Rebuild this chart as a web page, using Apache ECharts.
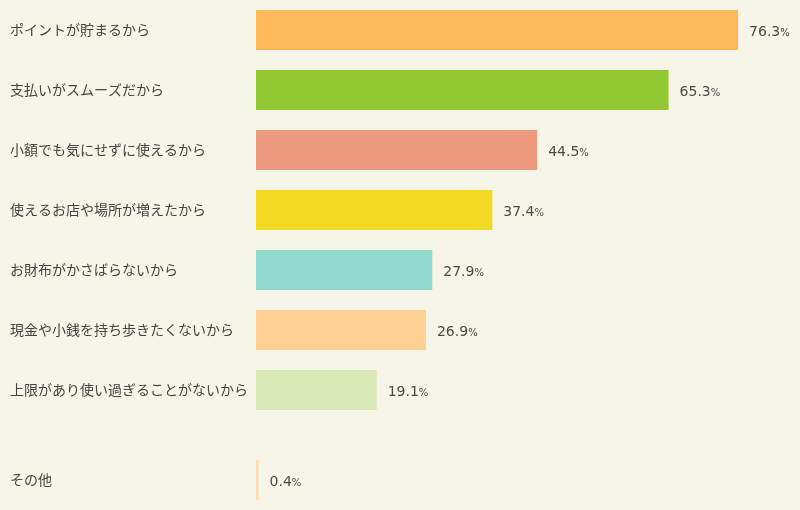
<!DOCTYPE html>
<html><head><meta charset="utf-8">
<script src="https://cdn.jsdelivr.net/npm/echarts@6/dist/echarts.min.js"></script>
<style>html,body{margin:0;padding:0;background:#f7f4e8;}#c{width:800px;height:510px;}</style>
</head><body><div id="c"></div>
<script>
const categories = ['ポイントが貯まるから','支払いがスムーズだから','小額でも気にせずに使えるから','使えるお店や場所が増えたから','お財布がかさばらないから','現金や小銭を持ち歩きたくないから','上限があり使い過ぎることがないから'];
const values = [76.3, 65.3, 44.5, 37.4, 27.9, 26.9, 19.1];
const colors = ['#ffb85a','#92c933','#ed9a7e','#f2da22','#91d9cb','#fdd093','#d7e8b5'];
const otherCategories = ['その他'];
const otherValues = [0.4];
const otherColors = ['#fddcaa'];

const font = '"Noto Sans CJK JP", "Noto Sans", sans-serif';
const numFont = '"DejaVu Sans", sans-serif';
const lbl = {
  show: true, position: 'right', distance: 11, offset: [0, 2],
  formatter: p => '{n|' + p.value.toFixed(1) + '}{p|%}',
  rich: {
    n: {fontSize: 14, color: '#4a4a4a', fontFamily: numFont},
    p: {fontSize: 10, color: '#4a4a4a', fontFamily: numFont, padding: [3,0,0,0]}
  }
};
function yax(gi, cats) {
  return {
    type: 'category', gridIndex: gi, data: cats, inverse: true,
    axisLine: {show: false}, axisTick: {show: false},
    axisLabel: {align: 'left', margin: 246, fontSize: 14, color: '#444', fontFamily: font}
  };
}
function xax(gi) {
  return {type: 'value', gridIndex: gi, min: 0, max: 86.1, show: false};
}
const chart = echarts.init(document.getElementById('c'));
chart.setOption({
  backgroundColor: '#f7f4e8',
  animation: false,
  grid: [
    {left: 256, top: 0, right: 0, height: 420},
    {left: 256, top: 450, right: 0, height: 60}
  ],
  xAxis: [xax(0), xax(1)],
  yAxis: [yax(0, categories), yax(1, otherCategories)],
  series: [
    {type: 'bar', xAxisIndex: 0, yAxisIndex: 0, barWidth: 40,
     data: values.map((v, i) => ({value: v, itemStyle: {color: colors[i]}})), label: lbl},
    {type: 'bar', xAxisIndex: 1, yAxisIndex: 1, barWidth: 40, barMinWidth: 3,
     data: otherValues.map((v, i) => ({value: v, itemStyle: {color: otherColors[i]}})), label: lbl}
  ]
});
</script></body></html>
